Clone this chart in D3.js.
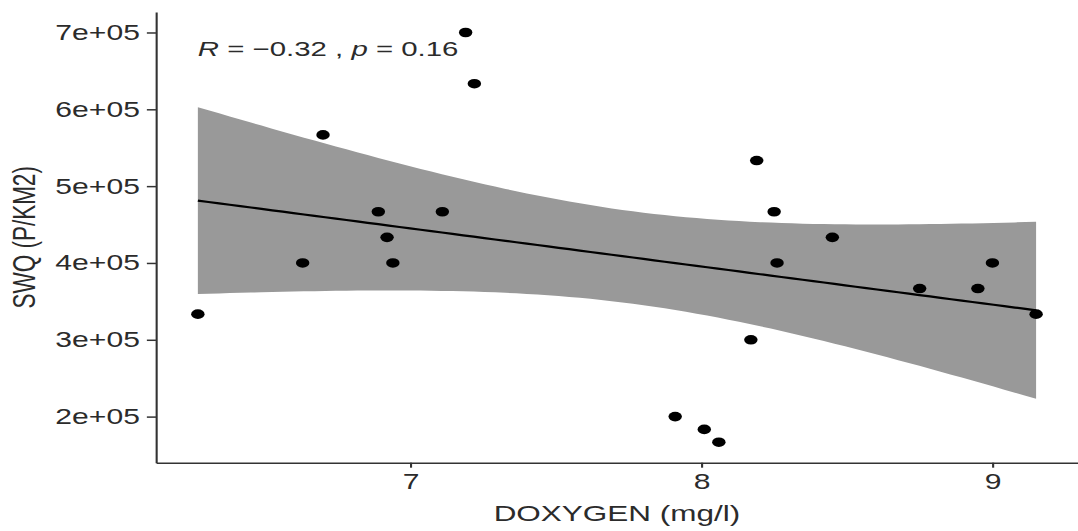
<!DOCTYPE html>
<html>
<head>
<meta charset="utf-8">
<script src="https://d3js.org/d3.v7.min.js"></script>
<style>
  body { margin: 0; background: #fff; }
  text { font-family: "Liberation Sans", Arial, sans-serif; fill: #2b2b2b; }
  .axis path, .axis line { stroke: #333; stroke-width: 1.5px; }
</style>
</head>
<body>
<!-- the reference is stretched sideways, so draw in a narrower box and let the viewBox widen it -->
<svg id="chart" width="1078" height="531" viewBox="0 0 770 531" preserveAspectRatio="none"></svg>
<script>

var doxygen = [6.27, 6.63, 6.70, 6.89, 6.92, 6.94, 7.11, 7.19, 7.22, 7.91, 8.01,
               8.06, 8.17, 8.19, 8.25, 8.26, 8.45, 8.75, 8.95, 9.00, 9.15];
var swq = [333333, 400000, 566667, 466667, 433333, 400000, 466667, 700000, 633333, 200000, 183333,
           166667, 300000, 533333, 466667, 400000, 433333, 366667, 366667, 400000, 333333];

var xTicks = [7, 8, 9];
var yTicks = [2e5, 3e5, 4e5, 5e5, 6e5, 7e5];
var yTickLabels = ["2e+05", "3e+05", "4e+05", "5e+05", "6e+05", "7e+05"];
var xTitle = "DOXYGEN (mg/l)";
var yTitle = "SWQ (P/KM2)";
var corR = "\u22120.32";
var corP = "0.16";

var svg = d3.select("#chart");
var pLeft = 111.4, pRight = 770, pTop = 12, pBottom = 462.7;

function expand(ext) {
  var pad = (ext[1] - ext[0]) * 0.05;
  return [ext[0] - pad, ext[1] + pad];
}

var x = d3.scaleLinear().domain(expand(d3.extent(doxygen))).range([pLeft, pRight]);
var y = d3.scaleLinear().domain(expand(d3.extent(swq))).range([pBottom, pTop]);

// linear fit with 95% confidence band (like geom_smooth(method = "lm"))
var n = doxygen.length;
var mx = d3.mean(doxygen), my = d3.mean(swq);
var sxx = 0, sxy = 0;
doxygen.forEach(function(v, i) {
  sxx += (v - mx) * (v - mx);
  sxy += (v - mx) * (swq[i] - my);
});
var slope = sxy / sxx;
var icpt = my - slope * mx;
var sse = 0;
doxygen.forEach(function(v, i) {
  var r = swq[i] - (icpt + slope * v);
  sse += r * r;
});
var s = Math.sqrt(sse / (n - 2));
var tq = 2.093; // t(0.975, df = 19)

var xs = d3.range(80).map(function(i) {
  return d3.min(doxygen) + i * (d3.max(doxygen) - d3.min(doxygen)) / 79;
});
var fit = xs.map(function(v) {
  var yh = icpt + slope * v;
  var se = s * Math.sqrt(1 / n + (v - mx) * (v - mx) / sxx);
  return { x: v, y: yh, lo: yh - tq * se, hi: yh + tq * se };
});

svg.append("path")
  .datum(fit)
  .attr("fill", "#999999")
  .attr("d", d3.area()
    .x(function(d) { return x(d.x); })
    .y0(function(d) { return y(d.lo); })
    .y1(function(d) { return y(d.hi); }));

svg.append("path")
  .datum(fit)
  .attr("fill", "none")
  .attr("stroke", "#000")
  .attr("stroke-width", 2.2)
  .attr("d", d3.line()
    .x(function(d) { return x(d.x); })
    .y(function(d) { return y(d.y); }));

svg.selectAll(".dot")
  .data(doxygen)
  .enter().append("circle")
  .attr("class", "dot")
  .attr("cx", function(d) { return x(d); })
  .attr("cy", function(d, i) { return y(swq[i]); })
  .attr("r", 4.8)
  .attr("fill", "#000");

// axes
svg.append("g")
  .attr("class", "axis")
  .attr("transform", "translate(" + pLeft + ",0)")
  .call(d3.axisLeft(y).tickValues(yTicks)
    .tickFormat(function(d, i) { return yTickLabels[i]; })
    .tickSize(6.5).tickSizeOuter(0).tickPadding(5));

svg.append("g")
  .attr("class", "axis")
  .attr("transform", "translate(0," + pBottom + ")")
  .call(d3.axisBottom(x).tickValues(xTicks)
    .tickFormat(d3.format("d"))
    .tickSize(5).tickSizeOuter(0).tickPadding(6));

svg.selectAll(".axis text")
  .attr("font-size", 21.5)
  .attr("font-family", "Liberation Sans, Arial, sans-serif")
  .style("fill", "#2b2b2b");

svg.append("text")
  .attr("x", (pLeft + pRight) / 2)
  .attr("y", 521)
  .attr("text-anchor", "middle")
  .attr("font-size", 22.5)
  .text(xTitle);

svg.append("text")
  .attr("transform", "translate(25," + (pTop + pBottom) / 2 + ") rotate(-90)")
  .attr("text-anchor", "middle")
  .attr("font-size", 22.5)
  .text(yTitle);

// correlation label at top-left of the data
var cor = svg.append("text")
  .attr("x", x(d3.min(doxygen)))
  .attr("y", y(d3.max(swq)) + 24)
  .attr("font-size", 21);
cor.append("tspan").attr("font-style", "italic").text("R");
cor.append("tspan").text(" = " + corR + " , ");
cor.append("tspan").attr("font-style", "italic").text("p");
cor.append("tspan").text(" = " + corP);

</script>
</body>
</html>
